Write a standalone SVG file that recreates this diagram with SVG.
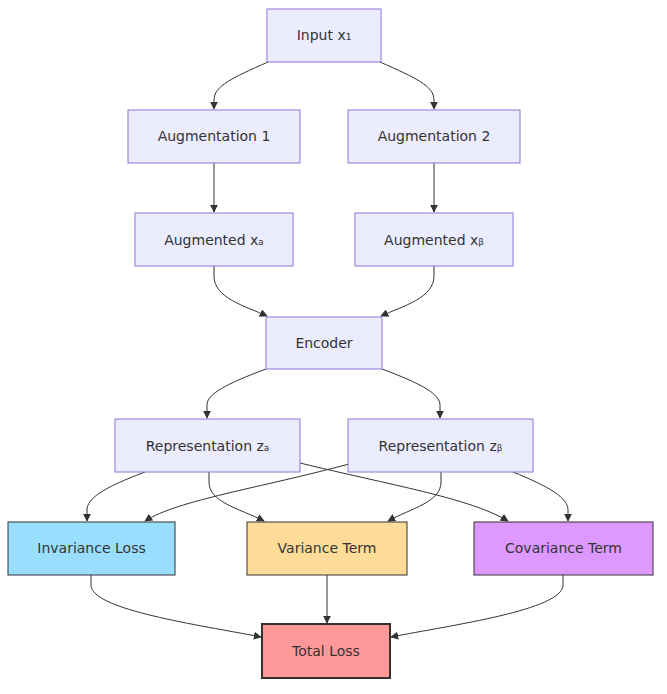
<svg xmlns="http://www.w3.org/2000/svg" width="667" height="694" viewBox="0 0 667 694">
<style>
.n rect{fill:#ECECFF;stroke:#9370DB;stroke-width:1}
text{font-family:"DejaVu Sans",sans-serif;font-size:14px;fill:#333;text-anchor:middle;dominant-baseline:central}
.e path{fill:none;stroke:#333;stroke-width:1}
</style>
<defs>
<marker id="ah" viewBox="0 0 10 10" refX="9" refY="5" markerWidth="8" markerHeight="8" markerUnits="userSpaceOnUse" orient="auto">
<path d="M0,0 L10,5 L0,10 z" fill="#333"/>
</marker>
</defs>
<rect width="667" height="694" fill="#fff"/>
<g class="e" marker-end="url(#ah)">
<path d="M268,62 C232,78 214,86 214,100 L214,109"/>
<path d="M380,62 C416,78 434,86 434,100 L434,109"/>
<path d="M214,163 L214,212"/>
<path d="M434,163 L434,212"/>
<path d="M214,266 L214,276 C214,298 245,306 267,316"/>
<path d="M434,266 L434,276 C434,298 403,306 381,316"/>
<path d="M266,369 C226,384 207,394 207,405 L207,418"/>
<path d="M382,369 C422,384 440,394 440,405 L440,418"/>
<path d="M145,472 C105,487 87,498 87,510 L87,521"/>
<path d="M349,464 C260,488 178,500 145,521"/>
<path d="M209,472 L209,482 C209,502 238,508 264,521"/>
<path d="M441,472 L441,482 C441,502 412,508 388,521"/>
<path d="M300,463 C390,485 470,498 508,521"/>
<path d="M513,472 C550,487 568,498 568,510 L568,521"/>
<path d="M91,575 L91,585 C91,610 200,625 261,637"/>
<path d="M327,575 L327,623"/>
<path d="M563,575 L563,585 C563,610 452,625 391,637"/>
</g>
<g id="input" class="n"><rect x="267" y="9" width="114" height="53"/><text x="324" y="35">Input x₁</text></g>
<g id="aug1" class="n"><rect x="128" y="110" width="172" height="53"/><text x="214" y="136">Augmentation 1</text></g>
<g id="aug2" class="n"><rect x="348" y="110" width="172" height="53"/><text x="434" y="136">Augmentation 2</text></g>
<g id="xa" class="n"><rect x="135" y="213" width="158" height="53"/><text x="214" y="240">Augmented xₐ</text></g>
<g id="xb" class="n"><rect x="355" y="213" width="158" height="53"/><text x="434" y="240">Augmented xᵦ</text></g>
<g id="encoder" class="n"><rect x="266" y="317" width="116" height="52"/><text x="324" y="343">Encoder</text></g>
<g id="za" class="n"><rect x="115" y="419" width="185" height="53"/><text x="207.5" y="446">Representation zₐ</text></g>
<g id="zb" class="n"><rect x="348" y="419" width="185" height="53"/><text x="440.5" y="446">Representation zᵦ</text></g>
<g id="inv"><rect x="8" y="522" width="167" height="53" fill="#99DDFF" stroke="#333" stroke-width="1"/><text x="91.5" y="548">Invariance Loss</text></g>
<g id="var"><rect x="247" y="522" width="160" height="53" fill="#FFDD99" stroke="#333" stroke-width="1"/><text x="327" y="548">Variance Term</text></g>
<g id="cov"><rect x="474" y="522" width="179" height="53" fill="#DD99FF" stroke="#333" stroke-width="1"/><text x="563.5" y="548">Covariance Term</text></g>
<g id="total"><rect x="262" y="624" width="128" height="54" fill="#FF9999" stroke="#333" stroke-width="2"/><text x="326" y="651">Total Loss</text></g>
</svg>
